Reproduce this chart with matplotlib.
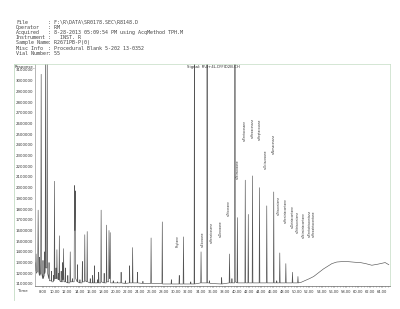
import matplotlib.pyplot as plt
from matplotlib.lines import Line2D

# header block (instrument report)
header_keys = ["File", "Operator", "Acquired", "Instrument", "Sample Name", "Misc Info", "Vial Number"]
header_vals = [
    "F:\\R\\DATA\\SR0178.SEC\\R8148.D",
    "RM",
    "8-28-2013 05:09:54 PM using AcqMethod TPH.M",
    "  INST. R",
    "R2671PB-P(0)",
    "Procedural Blank 5-202 13-0352",
    "55",
]
signal_name = "Signal: R\\4+4L.D\\FID2B.CH"

# chromatogram trace, vertices (minutes, response x1000)
trace_time = [
    6.70,
    6.80, 6.86, 6.92,
    7.12, 7.20, 7.28,
    7.40, 7.45, 7.50,
    7.62, 7.70, 7.78,
    7.95, 8.00, 8.05,
    8.20, 8.25, 8.30,
    8.36, 8.42, 8.48,
    8.64, 8.70, 8.76,
    8.95, 9.00, 9.05,
    9.35, 9.40, 9.45,
    9.70, 9.75, 9.80,
    9.84, 9.90, 9.96,
    10.10, 10.15, 10.20,
    10.25, 10.30, 10.36,
    10.50, 10.55, 10.60,
    10.64, 10.70, 10.76,
    10.95, 11.00, 11.05,
    11.20, 11.25, 11.30,
    11.34, 11.40, 11.46,
    11.65, 11.70, 11.75,
    12.05, 12.10, 12.15,
    12.44, 12.50, 12.56,
    12.80, 12.85, 12.90,
    13.14, 13.20, 13.27, 13.33, 13.40,
    13.65, 13.70, 13.75,
    14.05, 14.10, 14.15,
    14.45, 14.50, 14.55,
    14.84, 14.90, 14.96,
    15.24, 15.30, 15.36,
    15.75, 15.80, 15.85,
    16.15, 16.20, 16.25,
    16.45, 16.50, 16.55,
    16.95, 17.00, 17.05,
    17.15, 17.20, 17.25,
    17.54, 17.60, 17.66,
    18.05, 18.10, 18.15,
    18.44, 18.50, 18.56,
    18.84, 18.90, 18.96, 19.04, 19.10, 19.16,
    19.55, 19.60, 19.65,
    20.25, 20.30, 20.35,
    20.85, 20.90, 20.95,
    21.55, 21.60, 21.65,
    22.25, 22.30, 22.35,
    22.74, 22.80, 22.86,
    23.55, 23.60, 23.65,
    24.45, 24.50, 24.55,
    25.79, 25.85, 25.91,
    27.64, 27.70, 27.76,
    29.15, 29.20, 29.25,
    30.45, 30.50, 30.55,
    31.14, 31.20, 31.26,
    32.35, 32.40, 32.45,
    32.95, 33.00, 33.05,
    34.04, 34.10, 34.16,
    35.05, 35.10, 35.15,
    35.45, 35.50, 35.55,
    37.45, 37.50, 37.55,
    38.74, 38.80, 38.86,
    39.15, 39.20, 39.25,
    39.65, 39.70, 39.75,
    40.04, 40.10, 40.16,
    41.34, 41.40, 41.46,
    41.84, 41.90, 41.96,
    42.54, 42.60, 42.66,
    43.69, 43.75, 43.81,
    44.89, 44.95, 45.01,
    46.04, 46.10, 46.16,
    46.55, 46.60, 46.65,
    47.04, 47.10, 47.16,
    48.04, 48.10, 48.16,
    49.14, 49.20, 49.26,
    50.04, 50.10, 50.16,
    50.60, 51.00, 52.00, 52.70, 53.50, 54.30, 55.00, 55.70, 56.50, 57.60,
    58.50, 59.50, 60.40, 61.30, 62.30, 63.30, 64.50, 65.10,
]
trace_resp = [
    1300,
    1220, 1380, 1200,
    1220, 1790, 1220,
    1180, 1350, 1180,
    1200, 3060, 1200,
    1150, 1320, 1150,
    1180, 1400, 1200,
    1220, 3400, 1250,
    1250, 3400, 1200,
    1150, 1300, 1130,
    1130, 1220, 1120,
    1120, 1180, 1130,
    1140, 2060, 1150,
    1150, 1250, 1150,
    1160, 1420, 1160,
    1140, 1200, 1140,
    1140, 1550, 1130,
    1120, 1220, 1120,
    1120, 1300, 1140,
    1150, 1430, 1120,
    1120, 1250, 1120,
    1110, 1180, 1110,
    1110, 1400, 1120,
    1120, 1150, 1120,
    1120, 2020, 1600, 1970, 1150,
    1120, 1280, 1120,
    1110, 1140, 1110,
    1110, 1310, 1120,
    1120, 1560, 1130,
    1120, 1590, 1120,
    1110, 1150, 1110,
    1110, 1180, 1110,
    1110, 1270, 1110,
    1110, 1140, 1110,
    1110, 1210, 1110,
    1110, 1790, 1120,
    1110, 1200, 1110,
    1110, 1650, 1120,
    1120, 1600, 1150, 1150, 1580, 1110,
    1110, 1130, 1110,
    1110, 1120, 1110,
    1110, 1210, 1110,
    1105, 1130, 1105,
    1110, 1270, 1110,
    1110, 1440, 1110,
    1110, 1210, 1110,
    1105, 1125, 1105,
    1105, 1530, 1105,
    1105, 1680, 1100,
    1100, 1140, 1100,
    1100, 1180, 1100,
    1100, 1540, 1100,
    1100, 1120, 1100,
    1100, 3500, 1100,
    1110, 1400, 1110,
    1110, 3500, 1110,
    1110, 1130, 1105,
    1100, 1160, 1100,
    1110, 1380, 1110,
    1110, 1150, 1110,
    1110, 3500, 1120,
    1110, 1720, 1110,
    1110, 2070, 1110,
    1110, 1750, 1110,
    1110, 2110, 1110,
    1110, 2000, 1110,
    1110, 1830, 1110,
    1110, 1960, 1110,
    1110, 1130, 1110,
    1110, 1390, 1110,
    1110, 1290, 1110,
    1110, 1210, 1110,
    1110, 1170, 1110,
    1115, 1125, 1150, 1170, 1205, 1240, 1265, 1290, 1305, 1310,
    1308, 1303, 1300, 1290, 1275, 1285, 1300, 1280,
]

# compound labels: name, retention time, response at bottom of text
label_names = [
    "Phytane", "n-Eicosane", "n-Heneicosane", "n-Docosane", "n-Tricosane", "n-Tetracosane",
    "n-Pentacosane", "n-Hexacosane", "n-Heptacosane", "n-Octacosane", "n-Nonacosane",
    "n-Triacontane", "n-Hentriacontane", "n-Dotriacontane", "n-Tritriacontane",
    "n-Tetratriacontane", "n-Pentatriacontane", "n-Hexatriacontane",
]
label_time = [30.26, 34.45, 35.88, 37.37, 38.74, 40.12, 41.39, 42.60, 43.75, 44.86, 46.07,
              47.01, 48.12, 49.16, 50.10, 51.02, 51.97, 52.68]
label_resp = [1447, 1447, 1485, 1541, 1739, 2077, 2433, 2461, 2443, 2170, 2311,
              1748, 1673, 1626, 1579, 1532, 1541, 1541]

y_ticks = list(range(1100000, 3100001, 100000))
x_ticks = [8 + 2 * i for i in range(29)]


def main():
    fig = plt.figure(figsize=(4.0, 3.09), dpi=100)
    W, H = 400, 309

    # header text
    for i, (k, v) in enumerate(zip(header_keys, header_vals)):
        y = 1 - (22.5 + 5.1 * i) / H
        fig.text(16 / W, y, k, family="DejaVu Sans Mono", fontsize=3.6, color="#444",
                 va="center")
        fig.text(48 / W, y, ": " + v, family="DejaVu Sans Mono", fontsize=3.6, color="#444",
                 va="center")

    ax = fig.add_axes([35 / W, 1 - 286 / H, 355 / W, (286 - 64) / H])
    resp = [r * 1000 for r in trace_resp]
    ax.plot(trace_time, resp, color="#555555", lw=0.45)

    for name, t, r in zip(label_names, label_time, label_resp):
        ax.text(t, r * 1000, name, rotation=90, ha="center", va="bottom", fontsize=2.1,
                color="#333")

    ax.set_xlim(6.68, 65.3)
    ax.set_ylim(1081000, 3156000)
    ax.set_xticks(x_ticks)
    ax.set_xticklabels(["%.2f" % t for t in x_ticks])
    ax.set_xticks([8 + 0.5 * i for i in range(115)], minor=True)
    ax.set_yticks(y_ticks)
    ax.set_yticklabels([str(v) for v in y_ticks])
    ax.tick_params(axis="x", labelsize=2.6, length=1.2, width=0.3, pad=1.5, colors="#333")
    ax.tick_params(axis="x", which="minor", length=0.7, width=0.3, colors="#555")
    ax.tick_params(axis="y", labelsize=2.8, length=0, pad=1.2, colors="#333")

    ax.spines["left"].set_color("#999")
    ax.spines["bottom"].set_color("#666")
    ax.spines["top"].set_color("#c4dcc4")
    ax.spines["right"].set_color("#c4dcc4")
    for s in ax.spines.values():
        s.set_linewidth(0.5)

    # outer panel border
    fig.add_artist(Line2D([14 / W, 14 / W], [1 - 64 / H, 1 - 300 / H], color="#c4dcc4", lw=0.6))
    fig.add_artist(Line2D([14 / W, 35 / W], [1 - 64 / H, 1 - 64 / H], color="#c4dcc4", lw=0.6))

    fig.text(15 / W, 1 - 66.5 / H, "Response_", fontsize=2.8, color="#333", va="center")
    fig.text(213 / W, 1 - 66.5 / H, signal_name, fontsize=2.8, color="#333", va="center",
             ha="center")
    fig.text(18 / W, 1 - 291 / H, "Time", fontsize=2.8, color="#333", va="center")

    fig.savefig("out.png", dpi=100)


if __name__ == "__main__":
    main()
